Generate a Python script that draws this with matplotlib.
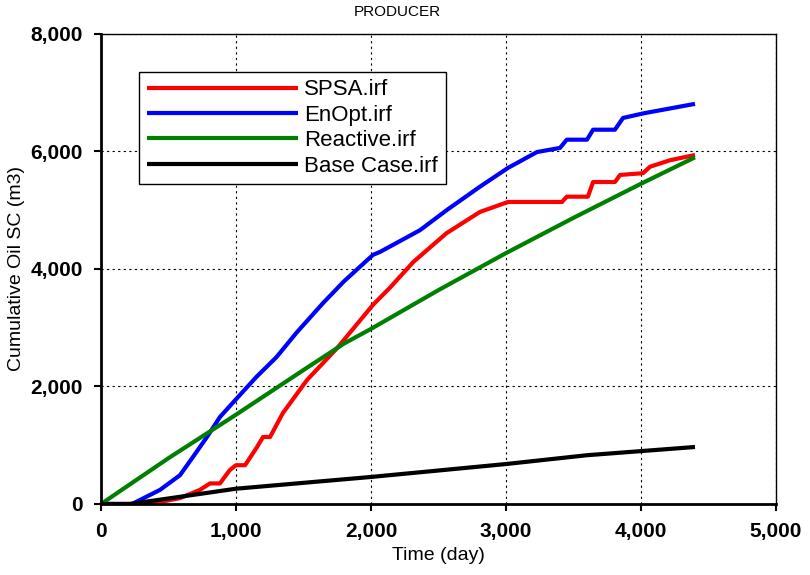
import matplotlib
matplotlib.use("Agg")
import matplotlib.pyplot as plt
from matplotlib.ticker import FuncFormatter

plt.rcParams['font.family'] = ['Liberation Sans', 'DejaVu Sans']

spsa_t = [0, 363, 585, 733, 807, 881, 955, 1000, 1067, 1156, 1200, 1252, 1348, 1526, 1748, 2015, 2140,
          2314, 2560, 2807, 3015, 3415, 3450, 3607, 3645, 3807, 3845, 4015, 4067, 4215, 4400]
spsa_v = [0, 0, 100, 240, 350, 350, 580, 660, 660, 970, 1140, 1140, 1550, 2110, 2650, 3390, 3680,
          4120, 4610, 4970, 5140, 5140, 5230, 5230, 5480, 5480, 5600, 5630, 5740, 5850, 5940]

enopt_t = [0, 230, 437, 585, 681, 785, 881, 1007, 1150, 1300, 1450, 1645, 1800, 2015, 2067, 2363,
           2560, 2807, 3015, 3230, 3400, 3450, 3600, 3645, 3807, 3867, 4022, 4400]
enopt_v = [0, 0, 240, 490, 800, 1140, 1480, 1800, 2160, 2500, 2920, 3420, 3790, 4240, 4290, 4660,
           5000, 5400, 5720, 5990, 6060, 6200, 6200, 6370, 6370, 6570, 6650, 6810]

reactive_t = [0, 500, 1000, 1500, 1800, 2000, 2500, 3000, 3500, 4000, 4400]
reactive_v = [0, 780, 1520, 2280, 2730, 2980, 3640, 4270, 4870, 5450, 5900]

base_t = [0, 215, 1000, 2000, 3000, 3600, 4400]
base_v = [0, 0, 260, 460, 680, 830, 970]

series = [
    ("SPSA.irf", spsa_t, spsa_v, "#ff0000"),
    ("EnOpt.irf", enopt_t, enopt_v, "#0000ff"),
    ("Reactive.irf", reactive_t, reactive_v, "#008000"),
    ("Base Case.irf", base_t, base_v, "#000000"),
]

fig = plt.figure(figsize=(8.1, 5.75), dpi=100)
ax = fig.add_axes([0.1247, 0.1235, 0.8333, 0.8175])

for name, t, v, c in series:
    ax.plot(t, v, color=c, lw=3, label=name, solid_capstyle='butt', solid_joinstyle='round')

ax.set_xlim(0, 5000)
ax.set_ylim(0, 8000)
ax.set_xticks([0, 1000, 2000, 3000, 4000, 5000])
ax.set_yticks([0, 2000, 4000, 6000, 8000])
fmt = FuncFormatter(lambda x, p: f"{int(x):,}")
ax.xaxis.set_major_formatter(fmt)
ax.yaxis.set_major_formatter(fmt)
ax.grid(True, color='black', linestyle=(0, (2, 3)), linewidth=0.8)
for s in ax.spines.values():
    s.set_linewidth(1.0)
ax.spines['left'].set_linewidth(2)
ax.spines['bottom'].set_linewidth(2)
ax.tick_params(direction='out', length=5, width=1.5, pad=8)
for lab in ax.get_xticklabels() + ax.get_yticklabels():
    lab.set_fontweight('bold')
    lab.set_fontsize(15)

ax.set_xlabel("Time (day)", fontsize=14, labelpad=4)
ax.set_ylabel("Cumulative Oil SC (m3)", fontsize=14, labelpad=4)
fig.text(0.49, 0.979, "PRODUCER", ha='center', va='center', fontsize=11)

leg = ax.legend(loc='upper left', bbox_to_anchor=(0.056, 0.92), fontsize=16, handlelength=6.8,
                handletextpad=0.3, labelspacing=0.2, borderpad=0.35, frameon=True, fancybox=False,
                edgecolor='black', framealpha=1, borderaxespad=0)
leg.get_frame().set_linewidth(1.0)

fig.savefig("out.png", dpi=100)
